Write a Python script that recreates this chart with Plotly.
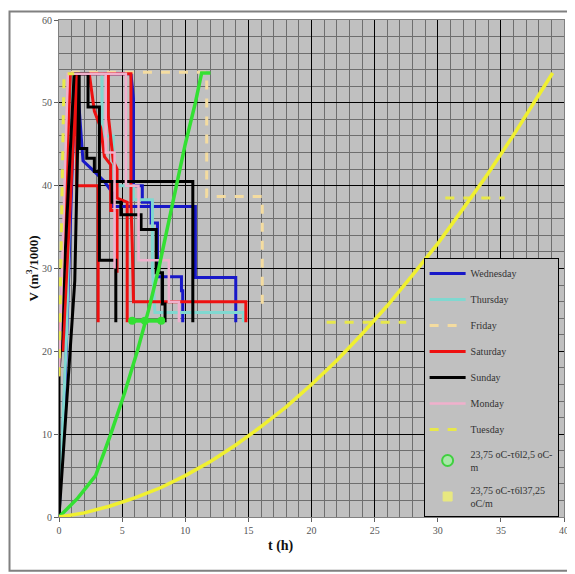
import plotly.graph_objects as go

# ---------------- data (t in h, V in m3/1000) ----------------
wed_t = [0, 0.5, 1.0, 1.3, 5.7, 5.9, 5.9, 6.6, 6.6, 7.3, 7.3, 7.8, 7.8, 9.7, 9.7, 9.8, 9.8, None,
         1.4, 1.9, 1.9, 2.6, 2.6, 3.6, 3.6, 4.3, 4.3, 10.8, 10.8, 14.0, 14.0]
wed_v = [0, 17, 40, 53.5, 53.5, 50.5, 40, 40, 38, 38, 35.5, 35.5, 29, 29, 27.3, 27.3, 23.5, None,
         53.5, 43, 43, 42, 42, 40.5, 40.5, 39, 37.5, 37.5, 28.9, 28.9, 23.5]

thu_t = [0, 0.6, 1.1, 3.4, 3.4, 4.3, 4.3, 5.9, 5.9, 7.4, 7.4, 7.6, 14.6, 14.6]
thu_v = [0, 22, 53.5, 53.5, 46, 46, 40, 40, 38.3, 38.3, 30, 24.7, 24.7, 23.5]

fri_t = [0, 0.8, 11.7, 11.7, 16.1, 16.1]
fri_v = [17, 53.7, 53.7, 38.7, 38.7, 25.0]

sat_t = [0, 0.9, 5.7, 5.7, 5.8, 5.9, 14.8, 14.8, None,
         0.3, 1.4, 1.4, 3.1, 3.1, None,
         3.9, 3.9, 4.3, 4.6, 4.6, 5.4, 5.4, None,
         2.4, 2.8, 3.3, 3.6, 4.1, 4.1, 4.6, 4.6]
sat_v = [17, 53.5, 53.5, 38, 33, 26, 26, 23.5, None,
         20, 53.5, 40, 40, 23.5, None,
         53.5, 48.5, 43, 42, 38.5, 38, 23.5, None,
         53.5, 49, 47, 43.5, 42.5, 37, 37, 29.5]

sun_t = [0, 1.25, 1.6, 1.6, 2.2, 2.2, 2.8, 2.8, 3.2, 3.2, 10.6, 10.6, None,
         0, 0, 1.2, 2.3, 2.3, 3.2, 3.2, 4.5, 4.5, None,
         4.2, 4.2, 4.9, 4.9, 6.5, 6.5, 7.7, 7.7, 8.2, 8.2, 8.4, 8.4]
sun_v = [0, 28.5, 53.5, 44.5, 44.5, 43.3, 43.3, 41.7, 41.7, 40.5, 40.5, 23.5, None,
         0, 17, 53.5, 53.5, 49.5, 49.5, 31, 31, 23.5, None,
         40.5, 38, 38, 36.5, 36.5, 34.7, 34.7, 29.5, 29.5, 25.7, 25.7, 23.5]

mon_t = [0, 0.7, 5.3, 5.3, 6.3, 6.3, 8.7, 8.7, 9.5, 9.5, None, 3.7, 3.7, 4.4, 4.4]
mon_v = [17, 53.5, 53.5, 40, 40, 31, 31, 26, 26, 23.5, None, 53.5, 44, 44, 30]

tue_t = [0, 0.4, 1.2, None, 21.2, 27.5, None, 30.6, 35.3]
tue_v = [17, 53.5, 53.5, None, 23.5, 23.5, None, 38.5, 38.5]

grn_t = [0, 1.5, 2.9, 4.1, 5.2, 6.2, 7.1, 7.9, 8.6, 9.3, 10.0, 10.8, 11.3, 12.0]
grn_v = [0, 2.3, 5, 10, 15, 20, 25, 30, 35, 40, 45, 50, 53.6, 53.6]
grn_blob_t = [5.8, 6.8, 8.1]
grn_blob_v = [23.7, 23.7, 23.7]

ylw_t = [0, 2, 4, 6, 8, 10, 12, 14, 16, 18, 20, 22, 24, 26, 28, 30, 32, 34, 36, 38, 39.1]
ylw_v = [0, 0.5, 1.3, 2.3, 3.5, 5.0, 6.7, 8.7, 10.9, 13.3, 16.0, 18.9, 22.1, 25.5, 29.2,
         33.0, 37.2, 41.5, 46.1, 51.0, 53.6]

x_ticks = [0, 5, 10, 15, 20, 25, 30, 35, 40]
y_ticks = [0, 10, 20, 30, 40, 50, 60]

names = ["Wednesday", "Thursday", "Friday", "Saturday", "Sunday", "Monday", "Tuesday",
         "23,75 oC-τ6l2,5 oC-<br>m", "23,75 oC-τ6l37,25<br>oC/m"]

# ---------------- figure ----------------
fig = go.Figure()
FONT = "Liberation Serif, Times New Roman, serif"

series = [
    (wed_t, wed_v, "#1818c8", 3, "solid"),
    (thu_t, thu_v, "#80d8d0", 3, "solid"),
    (fri_t, fri_v, "#f4dca0", 3, "dash"),
    (sat_t, sat_v, "#ee1010", 3, "solid"),
    (sun_t, sun_v, "#000000", 3, "solid"),
    (mon_t, mon_v, "#f0b0cc", 2.5, "solid"),
    (tue_t, tue_v, "#e8e84a", 3, "dash"),
]
for i, (t, v, c, w, d) in enumerate(series):
    fig.add_trace(go.Scatter(x=t, y=v, mode="lines", name=names[i],
                             line=dict(color=c, width=w, dash=d),
                             legendgroup=names[i], legendrank=i + 1))

# green curve
fig.add_trace(go.Scatter(x=grn_t, y=grn_v, mode="lines", showlegend=False,
                         line=dict(color="#33e033", width=3.5)))
fig.add_trace(go.Scatter(x=grn_blob_t, y=grn_blob_v, mode="lines+markers", showlegend=False,
                         line=dict(color="#33e033", width=4),
                         marker=dict(symbol="circle", size=8, color="#33e033")))
fig.add_trace(go.Scatter(x=[None], y=[None], mode="markers", name=names[7],
                         marker=dict(symbol="circle", size=11, color="#a8e8a8",
                                     line=dict(color="#40d040", width=2)),
                         legendgroup=names[7], legendrank=8))
# yellow curve
fig.add_trace(go.Scatter(x=ylw_t, y=ylw_v, mode="lines", showlegend=False,
                         line=dict(color="#f0f030", width=3.5)))
fig.add_trace(go.Scatter(x=[None], y=[None], mode="markers", name=names[8],
                         marker=dict(symbol="square", size=9, color="#e8e880",
                                     line=dict(color="#e8e880", width=1)),
                         legendgroup=names[8], legendrank=9))

axis_common = dict(
    showgrid=True, gridcolor="#000000", gridwidth=1.2,
    showline=True, linecolor="#808080", linewidth=1, mirror=True,
    ticks="outside", ticklen=4, tickcolor="#606060",
    tickfont=dict(family=FONT, size=10, color="#555555"),
    zeroline=False,
)
fig.update_xaxes(range=[0, 40], tickvals=x_ticks,
                 minor=dict(dtick=1, showgrid=True, gridcolor="#6e6e6e", gridwidth=1),
                 **axis_common)
fig.update_yaxes(range=[0, 60], tickvals=y_ticks,
                 minor=dict(dtick=2, showgrid=True, gridcolor="#6e6e6e", gridwidth=1),
                 **axis_common)

# page has an 8px body margin: figure origin sits at page (8, 8)
fig.update_layout(
    width=567, height=566,
    margin=dict(l=51, r=6, t=10, b=57),
    paper_bgcolor="white", plot_bgcolor="#c0c0c0",
    font=dict(family=FONT, size=10, color="#333333"),
    legend=dict(x=0.722, y=0.0, xanchor="left", yanchor="bottom",
                bgcolor="#c0c0c0", bordercolor="#000000", borderwidth=1,
                font=dict(family=FONT, size=10, color="#333333"),
                traceorder="grouped", tracegroupgap=7, itemwidth=36),
    annotations=[
        dict(text="<b>V (m<sup>3</sup>/1000)</b>", xref="paper", yref="paper",
             x=0, y=0.5, xanchor="right", yanchor="middle", xshift=-17, textangle=-90,
             showarrow=False, font=dict(family=FONT, size=13, color="#111111")),
        dict(text="<b>t (h)</b>", xref="paper", yref="paper",
             x=0.44, y=0, xanchor="center", yanchor="top", yshift=-19,
             showarrow=False, font=dict(family=FONT, size=14, color="#111111")),
    ],
    shapes=[dict(type="rect", xref="paper", yref="paper",
                 x0=-0.098, x1=1.0098, y0=-0.108, y1=1.017,
                 line=dict(color="#808080", width=2), layer="below")],
)

fig.write_html("out.html")
